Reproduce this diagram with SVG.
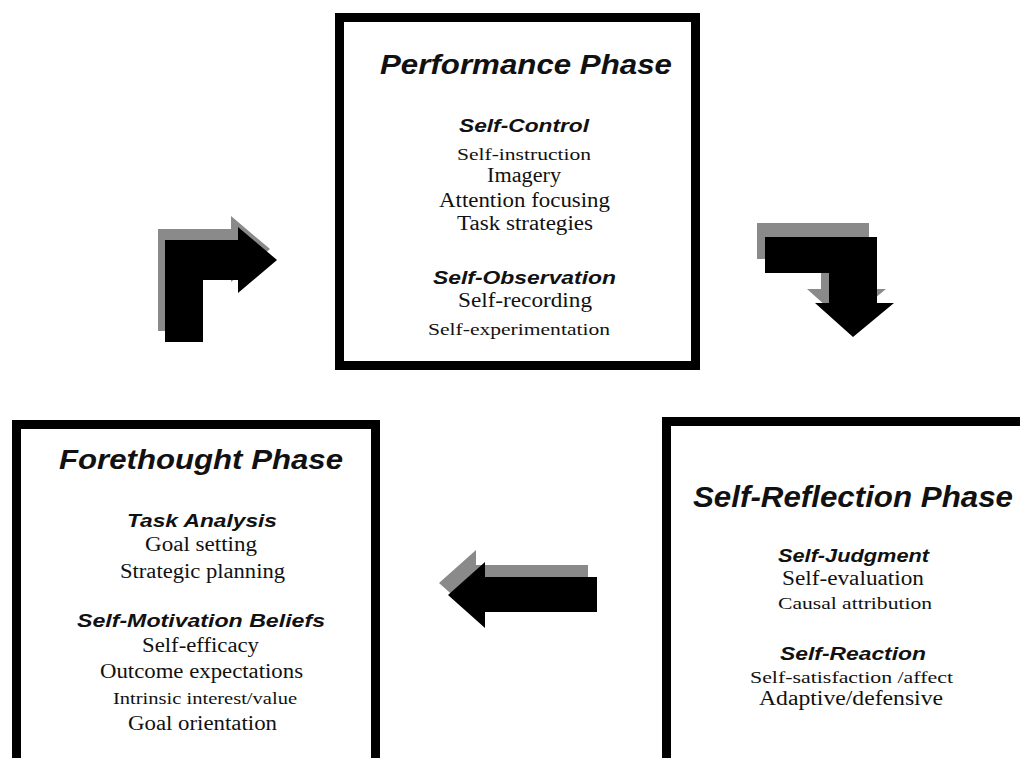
<svg xmlns="http://www.w3.org/2000/svg" width="1020" height="758" viewBox="0 0 1020 758">
<style>
.box{fill:#fff;stroke:#000;stroke-width:9}
.title{font-family:"Liberation Sans",Arial,sans-serif;font-style:italic;font-weight:bold;fill:#111;text-anchor:middle}
.sub{font-family:"Liberation Sans",Arial,sans-serif;font-style:italic;font-weight:bold;font-size:18px;fill:#111;text-anchor:middle}
.body{font-family:"Liberation Serif","Times New Roman",serif;font-size:20px;fill:#111;text-anchor:middle}
.small{font-family:"Liberation Serif","Times New Roman",serif;font-size:17px;fill:#111;text-anchor:middle}
.shadow{fill:#8a8a8a}
.arrow{fill:#000}
</style>
<rect width="1020" height="758" fill="#fff"/>
<g id="connectors">
  <g id="arrow-forethought-to-performance">
    <polygon class="shadow" transform="translate(-7,-11)" points="165,240 238,240 238,227 277,260 238,293 238,280 203,280 203,342 165,342"/>
    <polygon class="arrow" points="165,240 238,240 238,227 277,260 238,293 238,280 203,280 203,342 165,342"/>
  </g>
  <g id="arrow-performance-to-reflection">
    <polygon class="shadow" transform="translate(-8,-14)" points="765,237 877,237 877,303 894,303 853,337 815,303 829,303 829,273 765,273"/>
    <polygon class="arrow" points="765,237 877,237 877,303 894,303 853,337 815,303 829,303 829,273 765,273"/>
  </g>
  <g id="arrow-reflection-to-forethought">
    <polygon class="shadow" transform="translate(-9,-12)" points="597,577 485,577 485,562 448,595 485,628 485,612 597,612"/>
    <polygon class="arrow" points="597,577 485,577 485,562 448,595 485,628 485,612 597,612"/>
  </g>
</g>
<g id="performance-phase">
  <rect class="box" x="339.5" y="17.5" width="356" height="348"/>
  <text class="title" font-size="27" x="526" y="74" textLength="292" lengthAdjust="spacingAndGlyphs">Performance Phase</text>
  <text class="sub" x="524" y="132" textLength="130" lengthAdjust="spacingAndGlyphs">Self-Control</text>
  <text class="small" x="524" y="160" textLength="134" lengthAdjust="spacingAndGlyphs">Self-instruction</text>
  <text class="body" x="524" y="182" textLength="74" lengthAdjust="spacingAndGlyphs">Imagery</text>
  <text class="body" x="524.5" y="207" textLength="171" lengthAdjust="spacingAndGlyphs">Attention focusing</text>
  <text class="body" x="525" y="230" textLength="136" lengthAdjust="spacingAndGlyphs">Task strategies</text>
  <text class="sub" x="524.5" y="284" textLength="183" lengthAdjust="spacingAndGlyphs">Self-Observation</text>
  <text class="body" x="525" y="307" textLength="134" lengthAdjust="spacingAndGlyphs">Self-recording</text>
  <text class="small" x="519" y="335" textLength="182" lengthAdjust="spacingAndGlyphs">Self-experimentation</text>
</g>
<g id="forethought-phase">
  <rect class="box" x="16.5" y="424.5" width="359" height="400"/>
  <text class="title" font-size="28" x="201" y="469" textLength="284" lengthAdjust="spacingAndGlyphs">Forethought Phase</text>
  <text class="sub" x="202" y="527" textLength="150" lengthAdjust="spacingAndGlyphs">Task Analysis</text>
  <text class="body" x="201" y="551" textLength="112" lengthAdjust="spacingAndGlyphs">Goal setting</text>
  <text class="body" x="202.5" y="578" textLength="165" lengthAdjust="spacingAndGlyphs">Strategic planning</text>
  <text class="sub" x="201" y="627" textLength="248" lengthAdjust="spacingAndGlyphs">Self-Motivation Beliefs</text>
  <text class="body" x="200.5" y="652" textLength="117" lengthAdjust="spacingAndGlyphs">Self-efficacy</text>
  <text class="body" x="201.5" y="678" textLength="203" lengthAdjust="spacingAndGlyphs">Outcome expectations</text>
  <text class="small" x="205" y="704" textLength="184" lengthAdjust="spacingAndGlyphs">Intrinsic interest/value</text>
  <text class="body" x="202.5" y="730" textLength="149" lengthAdjust="spacingAndGlyphs">Goal orientation</text>
</g>
<g id="self-reflection-phase">
  <rect class="box" x="666.5" y="421.5" width="400" height="400"/>
  <text class="title" font-size="29" x="853" y="507" textLength="320" lengthAdjust="spacingAndGlyphs">Self-Reflection Phase</text>
  <text class="sub" x="853.5" y="562" textLength="151" lengthAdjust="spacingAndGlyphs">Self-Judgment</text>
  <text class="body" x="853" y="585" textLength="142" lengthAdjust="spacingAndGlyphs">Self-evaluation</text>
  <text class="small" x="855" y="609" textLength="154" lengthAdjust="spacingAndGlyphs">Causal attribution</text>
  <text class="sub" x="853" y="660" textLength="146" lengthAdjust="spacingAndGlyphs">Self-Reaction</text>
  <text class="small" x="851.5" y="683" textLength="203" lengthAdjust="spacingAndGlyphs">Self-satisfaction /affect</text>
  <text class="body" x="851" y="705" textLength="184" lengthAdjust="spacingAndGlyphs">Adaptive/defensive</text>
</g>
</svg>
